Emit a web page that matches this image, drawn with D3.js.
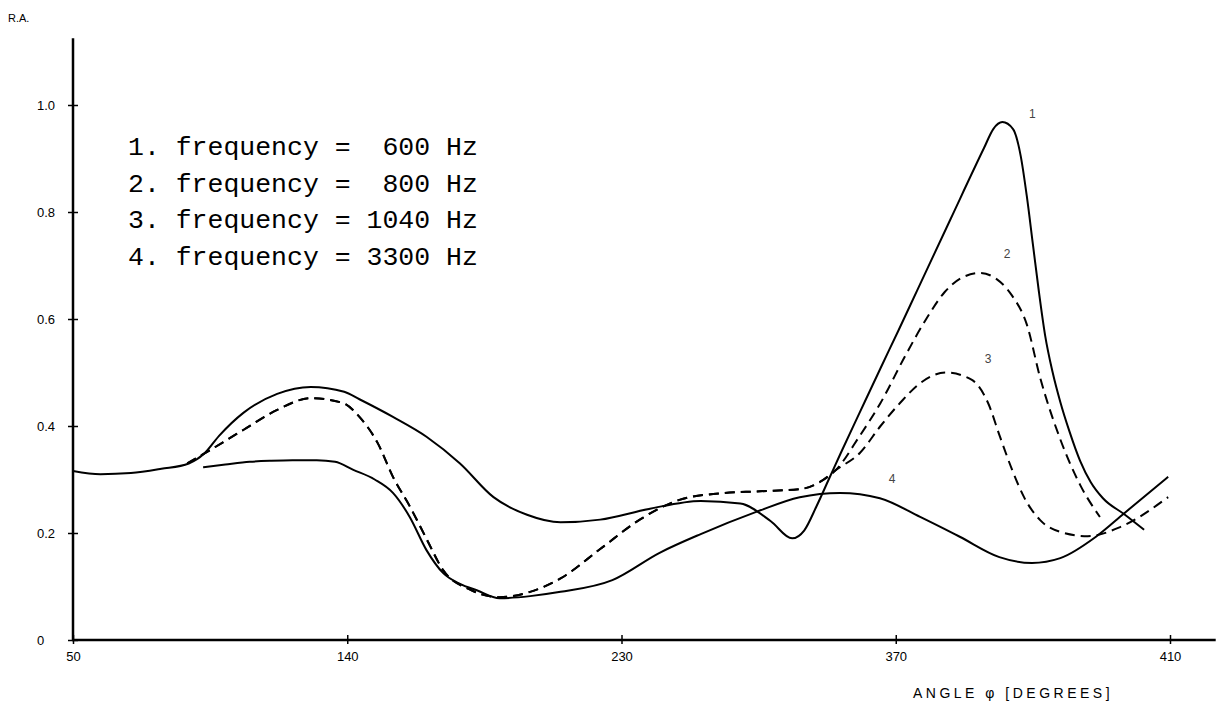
<!DOCTYPE html>
<html>
<head>
<meta charset="utf-8">
<script src="https://cdn.jsdelivr.net/npm/d3@7"></script>
<style>
  body { margin: 0; background: #fff; }
  svg { display: block; }
</style>
</head>
<body>
<div id="chart"></div>
<script>
// angle (degrees) / relative amplitude
const angle1 = [50, 59, 69, 79, 88, 93, 98, 106, 117, 128, 139, 144, 155, 166, 177, 188, 199, 210, 223, 239, 256, 269, 279, 286, 290, 294, 298, 302, 308, 315, 321, 327, 338, 349, 352, 355, 358.5, 361, 363, 365, 367, 369, 371.5, 374, 377, 380.5, 384, 388, 395, 401.5];
const ra1 = [0.316, 0.31, 0.312, 0.32, 0.33, 0.348, 0.382, 0.425, 0.46, 0.473, 0.464, 0.45, 0.417, 0.38, 0.33, 0.267, 0.234, 0.22, 0.225, 0.245, 0.26, 0.255, 0.222, 0.19, 0.205, 0.25, 0.3, 0.35, 0.423, 0.508, 0.58, 0.653, 0.787, 0.92, 0.955, 0.968, 0.955, 0.905, 0.83, 0.74, 0.65, 0.57, 0.5, 0.445, 0.39, 0.335, 0.295, 0.265, 0.235, 0.206];

// curves 2 and 3 share the same dashed trace until ~300 degrees
const angleShared = [87.5, 95, 106, 117, 128, 138.6, 144, 150, 155, 160.6, 166.2, 171.4, 180, 190, 200, 210, 223, 236, 249, 262, 275.5, 288.6, 295, 300.4];
const raShared = [0.33, 0.355, 0.393, 0.43, 0.452, 0.443, 0.417, 0.368, 0.305, 0.249, 0.187, 0.131, 0.095, 0.08, 0.09, 0.115, 0.17, 0.225, 0.262, 0.274, 0.278, 0.282, 0.295, 0.318];

const angle2 = angleShared.concat([308, 315, 323, 330, 336, 342, 347.7, 353, 358, 363, 367.4, 374, 380.5, 387]);
const ra2 = raShared.concat([0.38, 0.443, 0.53, 0.6, 0.65, 0.678, 0.686, 0.675, 0.645, 0.59, 0.49, 0.375, 0.29, 0.23]);

const angle3 = angleShared.concat([308.3, 315, 321.4, 328, 336.5, 345, 350.3, 354.2, 358.2, 362.1, 367.4, 374, 383, 393.6, 409.4]);
const ra3 = raShared.concat([0.35, 0.4, 0.443, 0.48, 0.50, 0.486, 0.443, 0.38, 0.318, 0.267, 0.224, 0.202, 0.194, 0.211, 0.267]);

const angle4 = [92.7, 100, 108, 115, 122, 130, 136, 142, 149, 155, 160.5, 166, 171.5, 177, 182.5, 190, 200, 210, 227, 242.5, 256, 274, 288.5, 301.7, 314.8, 328, 341, 354, 364.7, 374, 385.7, 395, 409.4];
const ra4 = [0.323, 0.328, 0.333, 0.335, 0.336, 0.336, 0.333, 0.318, 0.30, 0.275, 0.23, 0.168, 0.125, 0.105, 0.093, 0.078, 0.082, 0.09, 0.112, 0.163, 0.198, 0.239, 0.267, 0.275, 0.265, 0.23, 0.193, 0.155, 0.144, 0.153, 0.193, 0.237, 0.305];

const legendLines = [
  "1. frequency =  600 Hz",
  "2. frequency =  800 Hz",
  "3. frequency = 1040 Hz",
  "4. frequency = 3300 Hz"
];
const curveNames = ["1", "2", "3", "4"];
const curveLabelAngle = [364.8, 356.5, 350.3, 318.8];
const curveLabelRA = [0.976, 0.714, 0.518, 0.293];

const xTickValues = [50, 140, 230, 320, 410];
const xTickLabels = ["50", "140", "230", "370", "410"];
const yTickValues = [0, 0.2, 0.4, 0.6, 0.8, 1.0];
const yTickLabels = ["0", "0.2", "0.4", "0.6", "0.8", "1.0"];

const svg = d3.select("#chart").append("svg")
  .attr("width", 1222)
  .attr("height", 703);

const x = d3.scaleLinear().domain([50, 410]).range([73, 1170]);
const y = d3.scaleLinear().domain([0, 1]).range([640, 105]);

// axes
const xAxis = svg.append("g")
  .attr("transform", `translate(0,${y(0)})`)
  .call(d3.axisBottom(x).tickValues(xTickValues)
    .tickFormat((d, i) => xTickLabels[i]).tickSize(4).tickPadding(8));
xAxis.select(".domain").remove();
xAxis.selectAll(".tick line").attr("y1", -5).attr("stroke-width", 1.5);
xAxis.selectAll(".tick text")
  .style("font-family", "'Liberation Sans', Arial, sans-serif")
  .style("font-size", "13px");

const yAxis = svg.append("g")
  .attr("transform", `translate(${x(50)},0)`)
  .call(d3.axisLeft(y).tickValues(yTickValues)
    .tickFormat((d, i) => yTickLabels[i]).tickSize(5));
yAxis.select(".domain").remove();
yAxis.selectAll(".tick line").attr("x1", -5).attr("x2", 5).attr("stroke-width", 1.5);
yAxis.selectAll(".tick text")
  .attr("x", -36)
  .attr("text-anchor", "start")
  .style("font-family", "'Liberation Sans', Arial, sans-serif")
  .style("font-size", "13px");

svg.append("line")
  .attr("x1", x(50) - 1).attr("x2", x(425))
  .attr("y1", y(0)).attr("y2", y(0))
  .attr("stroke", "#000").attr("stroke-width", 2.5);
svg.append("line")
  .attr("x1", x(50)).attr("x2", x(50))
  .attr("y1", y(0) + 1).attr("y2", y(1.125))
  .attr("stroke", "#000").attr("stroke-width", 2.5);

svg.append("text")
  .attr("x", 8).attr("y", 22)
  .style("font-family", "'Liberation Sans', Arial, sans-serif")
  .style("font-size", "11px")
  .text("R.A.");

svg.append("text")
  .attr("x", 913).attr("y", 698)
  .style("font-family", "'Liberation Sans', Arial, sans-serif")
  .style("font-size", "14px")
  .style("letter-spacing", "3.5px")
  .text("ANGLE  φ [DEGREES]");

// curves
const line = d3.line()
  .x(d => x(d[0]))
  .y(d => y(d[1]))
  .curve(d3.curveMonotoneX);

const curves = [
  { a: angle1, v: ra1, dash: null },
  { a: angle2, v: ra2, dash: "10,6" },
  { a: angle3, v: ra3, dash: "10,6" },
  { a: angle4, v: ra4, dash: null }
];

svg.selectAll("path.curve")
  .data(curves)
  .join("path")
  .attr("class", "curve")
  .attr("d", d => line(d.a.map((t, i) => [t, d.v[i]])))
  .attr("fill", "none")
  .attr("stroke", "#000")
  .attr("stroke-width", 2)
  .attr("stroke-dasharray", d => d.dash);

svg.selectAll("text.clabel")
  .data(curveNames)
  .join("text")
  .attr("class", "clabel")
  .attr("x", (d, i) => x(curveLabelAngle[i]))
  .attr("y", (d, i) => y(curveLabelRA[i]))
  .attr("text-anchor", "middle")
  .style("font-family", "'Liberation Sans', Arial, sans-serif")
  .style("font-size", "12px")
  .attr("fill", "#444")
  .text(d => d);

// legend
svg.selectAll("text.legend")
  .data(legendLines)
  .join("text")
  .attr("class", "legend")
  .attr("x", 128)
  .attr("y", (d, i) => 155 + i * 36.5)
  .style("font-family", "'Courier New', 'Liberation Mono', monospace")
  .style("font-size", "26.5px")
  .style("white-space", "pre")
  .text(d => d);
</script>
</body>
</html>
